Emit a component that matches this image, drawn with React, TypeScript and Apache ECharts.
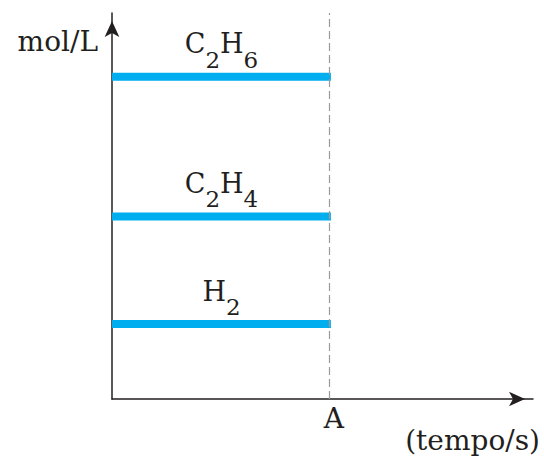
import React, { useEffect, useRef } from "react";
import * as echarts from "echarts";

// Data
const species = ["C2H6", "C2H4", "H2"];
const formulaLabels = ["{m|C}{s|2}{m|H}{s|6}", "{m|C}{s|2}{m|H}{s|4}", "{m|H}{s|2}"];
const concentrations = [8.35, 4.73, 1.94]; // mol/L
const timeStart = 0;
const timeEnd = 5.2;
const timeA = 5.15;
const labelTime = 2.6;
const xMax = 10;
const yMax = 10;
const xTickLabels = ["A"];
const yAxisName = "mol/L";
const xAxisName = "(tempo/s)";

const BLUE = "#00AEEF";
const INK = "#231f20";
const FONT = "DejaVu Serif";

export default function App() {
  const ref = useRef<HTMLDivElement>(null);
  useEffect(() => {
    document.body.style.margin = "0";
    const chart = echarts.init(ref.current!, null, { renderer: "svg" });
    const lineSeries = species.map((name, i) => ({
      name,
      type: "line",
      data: [
        [timeStart, concentrations[i]],
        [timeEnd, concentrations[i]],
      ],
      symbol: "none",
      silent: true,
      lineStyle: { color: BLUE, width: 8 },
      z: 3,
      ...(i === 0
        ? {
            markLine: {
              silent: true,
              symbol: "none",
              label: { show: false },
              lineStyle: { color: "#9a9a9a", width: 1.2, type: [8, 4] },
              data: [{ xAxis: timeA }],
            },
          }
        : {}),
    }));
    const richStyles = {
      m: {
        fontFamily: FONT,
        fontSize: 27,
        lineHeight: 30,
        color: INK,
        fontWeight: "normal",
        textBorderWidth: 0,
      },
      s: {
        fontFamily: FONT,
        fontSize: 23,
        lineHeight: 30,
        color: INK,
        fontWeight: "normal",
        textBorderWidth: 0,
        padding: [32, 0, 0, 0],
      },
    };
    chart.setOption({
      animation: false,
      grid: { left: 112, right: 11, top: 13, bottom: 58 },
      xAxis: {
        type: "value",
        min: 0,
        max: xMax,
        name: xAxisName,
        nameLocation: "end",
        nameGap: 7,
        nameTextStyle: {
          fontFamily: FONT,
          fontSize: 28,
          color: INK,
          align: "right",
          verticalAlign: "top",
          padding: [27, 0, 0, 0],
        },
        splitLine: { show: false },
        axisTick: { show: false },
        axisLine: {
          show: true,
          lineStyle: { color: INK, width: 1.5 },
          symbol: ["none", "arrow"],
          symbolSize: [11, 16],
          symbolOffset: [0, -8],
        },
        axisLabel: {
          customValues: [timeA],
          formatter: () => xTickLabels[0],
          fontFamily: FONT,
          fontSize: 28,
          color: INK,
          margin: 5,
          padding: [0, 0, 0, 10],
        },
      },
      yAxis: {
        type: "value",
        min: 0,
        max: yMax,
        name: yAxisName,
        nameLocation: "end",
        nameGap: -28,
        nameTextStyle: {
          fontFamily: FONT,
          fontSize: 28,
          color: INK,
          align: "right",
          verticalAlign: "middle",
          padding: [0, 14, 0, 0],
        },
        splitLine: { show: false },
        axisTick: { show: false },
        axisLabel: { show: false },
        axisLine: {
          show: true,
          lineStyle: { color: INK, width: 1.5 },
          symbol: ["none", "arrow"],
          symbolSize: [11, 16],
          symbolOffset: [0, -8],
        },
      },
      series: [
        ...lineSeries,
        {
          type: "scatter",
          silent: true,
          symbolSize: 0,
          itemStyle: { color: INK, opacity: 1 },
          data: species.map((name, i) => ({
            value: [labelTime, concentrations[i]],
            name,
            label: { formatter: formulaLabels[i] },
          })),
          label: {
            show: true,
            position: "top",
            distance: 18,
            color: INK,
            fontFamily: FONT,
            textBorderWidth: 0,
            rich: richStyles,
          },
          z: 4,
        },
      ],
    });
    return () => chart.dispose();
  }, []);
  return <div ref={ref} style={{ width: 544, height: 457 }} />;
}
